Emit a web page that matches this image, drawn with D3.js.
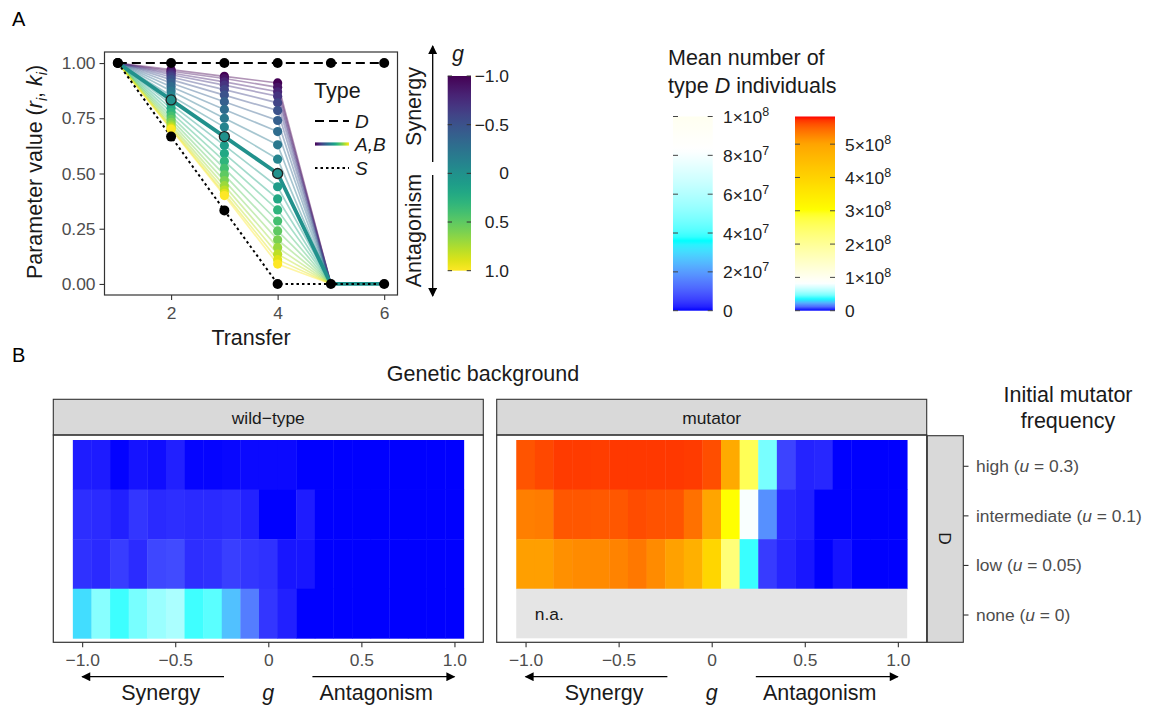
<!DOCTYPE html>
<html>
<head>
<meta charset="utf-8">
<script src="https://cdn.jsdelivr.net/npm/d3@7"></script>
<style>
  body { margin: 0; background: #fff; }
  text { font-family: "Liberation Sans", Arial, Helvetica, sans-serif; }
</style>
</head>
<body>
<svg id="fig" width="1156" height="711"></svg>
<script>
// ---- data: panel A ----
const transfers = [1, 2, 3, 4, 5, 6];
const gLevels = [-1.0, -0.9, -0.8, -0.7, -0.6, -0.5, -0.4, -0.3, -0.2, -0.1, 0.0,
                  0.1, 0.2, 0.3, 0.4, 0.5, 0.6, 0.7, 0.8, 0.9, 1.0];
const typeD = [1, 1, 1, 1, 1, 1];
const typeS = [1, 0.667, 0.333, 0, 0, 0];
const abT1 = 1;
const abT2 = [0.970, 0.963, 0.955, 0.947, 0.937, 0.925, 0.910, 0.893, 0.873, 0.852, 0.833,
              0.813, 0.795, 0.777, 0.760, 0.745, 0.732, 0.720, 0.711, 0.704, 0.700];
const abT3 = [0.940, 0.930, 0.915, 0.900, 0.880, 0.855, 0.825, 0.790, 0.750, 0.710, 0.667,
              0.627, 0.590, 0.556, 0.523, 0.494, 0.468, 0.445, 0.425, 0.410, 0.400];
const abT4 = [0.910, 0.890, 0.870, 0.850, 0.820, 0.785, 0.740, 0.690, 0.630, 0.565, 0.500,
              0.440, 0.385, 0.335, 0.285, 0.240, 0.200, 0.165, 0.135, 0.110, 0.090];
const abT5 = 0;
const abT6 = 0;
const yTicksA = [0, 0.25, 0.5, 0.75, 1];
const xTicksA = [2, 4, 6];
const gLegendTicks = [-1, -0.5, 0, 0.5, 1];
const gLegendLabels = ["\u22121.0", "\u22120.5", "0", "0.5", "1.0"];

// ---- data: panel B (mean number of type D individuals) ----
const rowLevels = ["high", "intermediate", "low", "none"];
const rowU = ["0.3", "0.1", "0.05", "0"];
const backgrounds = ["wild\u2212type", "mutator"];
const wildHigh = [1.6e6, 1.5e6, 0.1e6, 0.9e6, 0.6e6, 1.9e6, 0.2e6, 0.2e6, 0.3e6, 0.4e6, 0.4e6,
                  0.4e6, 0, 0, 0, 0, 0, 0, 0, 0, 0];
const wildIntermediate = [3.4e6, 3.1e6, 1.9e6, 4.3e6, 2.9e6, 3.4e6, 2.9e6, 2.9e6, 3.4e6, 2.1e6, 0,
                          0, 1.6e6, 0, 0, 0, 0, 0, 0, 0, 0];
const wildLow = [3.7e6, 2.9e6, 5.2e6, 3.1e6, 6.6e6, 7.2e6, 3.4e6, 3.7e6, 5.5e6, 4.3e6, 3.7e6,
                 1.1e6, 1.1e6, 0, 0, 0, 0, 0, 0, 0, 0];
const wildNone = [30.6e6, 50e6, 38.8e6, 46.8e6, 53.9e6, 58e6, 39e6, 42e6, 26e6, 15e6, 4.3e6,
                  1.9e6, 0, 0, 0, 0, 0, 0, 0, 0, 0];
const mutHigh = [5.58e8, 5.64e8, 5.70e8, 5.70e8, 5.69e8, 5.71e8, 5.71e8, 5.71e8, 5.71e8, 5.70e8, 5.61e8,
                 4.89e8, 2.61e8, 0.468e8, 0.061e8, 0.022e8, 0.026e8, 0, 0, 0, 0];
const mutIntermediate = [5.30e8, 5.32e8, 5.56e8, 5.56e8, 5.55e8, 5.56e8, 5.62e8, 5.59e8, 5.58e8, 5.40e8, 5.00e8,
                         3.00e8, 0.81e8, 0.18e8, 0.028e8, 0.019e8, 0, 0, 0, 0, 0];
const mutLow = [5.05e8, 5.05e8, 5.17e8, 5.21e8, 5.22e8, 5.27e8, 5.35e8, 5.21e8, 5.03e8, 4.77e8, 3.92e8,
                2.31e8, 0.385e8, 0.05e8, 0.024e8, 0.011e8, 0, 0.009e8, 0, 0, 0];
const mutNone = null; // not applicable

const fillStops = [0, 3.6e7, 8.3e7, 3.0e8, 5.0e8, 5.83e8];
const fillColors = ["#0000FF", "#00FFFF", "#FFFFFF", "#FFFF00", "#FFA500", "#FF0000"];
const lowBarMax = 1e8;
const lowBarTicks = [0, 2e7, 4e7, 6e7, 8e7, 1e8];
const highBarMax = 5.83e8;
const highBarTicks = [0, 1e8, 2e8, 3e8, 4e8, 5e8];
const xTicksB = [-1, -0.5, 0, 0.5, 1];

// ---- helpers ----
const svg = d3.select("#fig");
const ink = "#1a1a1a", grey = "#4d4d4d", frame = "#333333";
const fsTitle = 21.5, fsText = 17.4;
const defs = svg.append("defs");
defs.append("marker").attr("id", "arrow").attr("viewBox", "0 0 10 10")
  .attr("refX", 9).attr("refY", 5).attr("markerWidth", 10).attr("markerHeight", 9)
  .attr("markerUnits", "userSpaceOnUse").attr("orient", "auto")
  .append("path").attr("d", "M0,0 L10,5 L0,10 Z").attr("fill", "#000");

function styleAxis(sel) {
  sel.attr("font-size", null).attr("font-family", null);
  sel.select(".domain").remove();
  sel.selectAll(".tick line").attr("stroke", frame).attr("stroke-width", 1.1);
  sel.selectAll(".tick text").attr("fill", grey).style("font-size", fsText + "px");
}
function sciLabel(sel, v) {
  if (v === 0) { sel.text("0"); return; }
  const e = Math.floor(Math.log10(v) + 1e-9);
  const m = Math.round(v / Math.pow(10, e));
  sel.append("tspan").text(m + "\u00d710");
  sel.append("tspan").attr("dy", -7).style("font-size", "12.5px").text(e);
}
const viridisGrad = (id, x1, y1, x2, y2) => {
  const gr = defs.append("linearGradient").attr("id", id)
    .attr("x1", x1).attr("y1", y1).attr("x2", x2).attr("y2", y2);
  d3.range(0, 1.0001, 0.05).forEach(t => gr.append("stop")
    .attr("offset", t).attr("stop-color", d3.interpolateViridis(t)));
};
const gColor = g => d3.interpolateViridis((g + 1) / 2);
const fill = d3.scaleLinear().domain(fillStops).range(fillColors).interpolate(d3.interpolateLab).clamp(true);

// ---- panel letters ----
svg.append("text").attr("x", 12).attr("y", 25.5).style("font-size", "20px").attr("fill", "#000").text("A");
svg.append("text").attr("x", 12).attr("y", 362).style("font-size", "20px").attr("fill", "#000").text("B");

// ---- panel A ----
const xA = d3.scaleLinear().domain([0.75, 6.25]).range([104.5, 397.5]);
const yA = d3.scaleLinear().domain([-0.05, 1.05]).range([295, 52]);
const gA = svg.append("g");
const lineA = d3.line().x((d, i) => xA(transfers[i])).y(d => yA(d));

const abSeries = gLevels.map((g, i) => ({ g, vals: [abT1, abT2[i], abT3[i], abT4[i], abT5, abT6] }));

gA.selectAll(".ab").data(abSeries.filter(s => s.g !== 0)).join("path")
  .attr("d", s => lineA(s.vals)).attr("fill", "none")
  .attr("stroke", s => gColor(s.g)).attr("stroke-width", 1.7).attr("stroke-opacity", 0.42);
const mid = abSeries.find(s => s.g === 0);
gA.append("path").attr("d", lineA(mid.vals)).attr("fill", "none")
  .attr("stroke", gColor(0)).attr("stroke-width", 3.8);
gA.append("path").attr("d", lineA(typeD)).attr("fill", "none")
  .attr("stroke", "#000").attr("stroke-width", 2).attr("stroke-dasharray", "9,5");
gA.append("path").attr("d", lineA(typeS)).attr("fill", "none")
  .attr("stroke", "#000").attr("stroke-width", 2).attr("stroke-dasharray", "2.5,3");

abSeries.filter(s => s.g !== 0).forEach(s => {
  gA.selectAll(null).data(s.vals.slice(1, 4)).join("circle")
    .attr("cx", (d, i) => xA(transfers[i + 1])).attr("cy", d => yA(d))
    .attr("r", 4.6).attr("fill", gColor(s.g));
});
gA.selectAll(".mid").data(mid.vals.slice(1, 4)).join("circle")
  .attr("cx", (d, i) => xA(transfers[i + 1])).attr("cy", d => yA(d))
  .attr("r", 5).attr("fill", gColor(0)).attr("stroke", "#222").attr("stroke-width", 1.3);
gA.selectAll(".ptD").data(typeD).join("circle")
  .attr("cx", (d, i) => xA(transfers[i])).attr("cy", d => yA(d)).attr("r", 5).attr("fill", "#000");
gA.selectAll(".ptS").data(typeS).join("circle")
  .attr("cx", (d, i) => xA(transfers[i])).attr("cy", d => yA(d)).attr("r", 5).attr("fill", "#000");

gA.append("rect").attr("x", 104.5).attr("y", 52).attr("width", 293).attr("height", 243)
  .attr("fill", "none").attr("stroke", frame).attr("stroke-width", 1.2);
gA.append("g").attr("transform", "translate(104.5,0)")
  .call(d3.axisLeft(yA).tickValues(yTicksA).tickSize(5).tickPadding(4).tickFormat(d3.format(".2f")))
  .call(styleAxis);
gA.append("g").attr("transform", "translate(0,295)")
  .call(d3.axisBottom(xA).tickValues(xTicksA).tickSize(5).tickPadding(6.5).tickFormat(d3.format("d")))
  .call(styleAxis);

gA.append("text").attr("x", 251).attr("y", 345).attr("text-anchor", "middle")
  .style("font-size", fsTitle + "px").attr("fill", ink).text("Transfer");
const yTitle = gA.append("text").attr("transform", "translate(42,172) rotate(-90)")
  .attr("text-anchor", "middle").style("font-size", fsTitle + "px").attr("fill", ink);
yTitle.append("tspan").text("Parameter value (");
yTitle.append("tspan").style("font-style", "italic").text("r");
yTitle.append("tspan").attr("dy", 4.5).style("font-size", "14px").style("font-style", "italic").text("i");
yTitle.append("tspan").attr("dy", -4.5).text(", ");
yTitle.append("tspan").style("font-style", "italic").text("k");
yTitle.append("tspan").attr("dy", 4.5).style("font-size", "14px").style("font-style", "italic").text("i");
yTitle.append("tspan").attr("dy", -4.5).text(")");

// Type legend
const lg = gA.append("g");
lg.append("text").attr("x", 314).attr("y", 98).style("font-size", fsTitle + "px").attr("fill", ink).text("Type");
viridisGrad("vgH", 0, 0, 1, 0);
const keys = [
  { y: 121, label: "D", dash: "9,5", stroke: "#000", w: 2 },
  { y: 144, label: "A,B", dash: null, stroke: "url(#vgH)", w: 3 },
  { y: 168, label: "S", dash: "2.5,3", stroke: "#000", w: 2 }
];
keys.forEach(k => {
  if (k.dash === null) {
    lg.append("rect").attr("x", 315).attr("y", k.y - 1.6).attr("width", 34).attr("height", 3.2).attr("fill", k.stroke);
  } else {
    lg.append("line").attr("x1", 315).attr("x2", 349).attr("y1", k.y).attr("y2", k.y)
      .attr("stroke", k.stroke).attr("stroke-width", k.w).attr("stroke-dasharray", k.dash);
  }
  lg.append("text").attr("x", 355).attr("y", k.y + 6.5).style("font-size", "19px")
    .style("font-style", "italic").attr("fill", ink).text(k.label);
});

// g colourbar and synergy/antagonism arrows
viridisGrad("vgV", 0, 0, 0, 1);
const yG = d3.scaleLinear().domain([-1, 1]).range([76, 270.7]);
svg.append("rect").attr("x", 447.7).attr("y", yG(-1)).attr("width", 23.3).attr("height", yG(1) - yG(-1))
  .attr("fill", "url(#vgV)");
gLegendTicks.forEach((t, i) => {
  svg.append("line").attr("x1", 447.7).attr("x2", 452).attr("y1", yG(t)).attr("y2", yG(t)).attr("stroke", "#333");
  svg.append("line").attr("x1", 466.7).attr("x2", 471).attr("y1", yG(t)).attr("y2", yG(t)).attr("stroke", "#333");
  svg.append("text").attr("x", 509).attr("y", yG(t) + 6).attr("text-anchor", "end")
    .style("font-size", fsText + "px").attr("fill", "#222").text(gLegendLabels[i]);
});
svg.append("text").attr("x", 458).attr("y", 61).attr("text-anchor", "middle")
  .style("font-size", fsTitle + "px").style("font-style", "italic").attr("fill", ink).text("g");
svg.append("line").attr("x1", 432.7).attr("x2", 432.7).attr("y1", 162).attr("y2", 46)
  .attr("stroke", "#000").attr("stroke-width", 1.3).attr("marker-end", "url(#arrow)");
svg.append("line").attr("x1", 432.7).attr("x2", 432.7).attr("y1", 175).attr("y2", 296)
  .attr("stroke", "#000").attr("stroke-width", 1.3).attr("marker-end", "url(#arrow)");
svg.append("text").attr("transform", "translate(421,106.5) rotate(-90)").attr("text-anchor", "middle")
  .style("font-size", fsTitle + "px").attr("fill", ink).text("Synergy");
svg.append("text").attr("transform", "translate(421,230.5) rotate(-90)").attr("text-anchor", "middle")
  .style("font-size", fsTitle + "px").attr("fill", ink).text("Antagonism");

// ---- fill colourbars ----
const cbTitle = svg.append("g");
cbTitle.append("text").attr("x", 668).attr("y", 65).style("font-size", fsTitle + "px").attr("fill", ink).text("Mean number of");
const t2 = cbTitle.append("text").attr("x", 668).attr("y", 92.5).style("font-size", fsTitle + "px").attr("fill", ink);
t2.append("tspan").text("type ");
t2.append("tspan").style("font-style", "italic").text("D");
t2.append("tspan").text(" individuals");

function colourBar(id, x, w, maxV, ticks, labelX) {
  const y = d3.scaleLinear().domain([0, maxV]).range([310.7, 116.5]);
  const gr = defs.append("linearGradient").attr("id", id).attr("x1", 0).attr("y1", 1).attr("x2", 0).attr("y2", 0);
  d3.range(0, 1.0001, 0.02).forEach(t => gr.append("stop").attr("offset", t).attr("stop-color", fill(t * maxV)));
  svg.append("rect").attr("x", x).attr("y", y(maxV)).attr("width", w).attr("height", y(0) - y(maxV))
    .attr("fill", "url(#" + id + ")");
  ticks.forEach(t => {
    svg.append("line").attr("x1", x).attr("x2", x + 5).attr("y1", y(t)).attr("y2", y(t)).attr("stroke", "#444");
    svg.append("line").attr("x1", x + w - 5).attr("x2", x + w).attr("y1", y(t)).attr("y2", y(t)).attr("stroke", "#444");
    const tx = svg.append("text").attr("x", labelX).attr("y", y(t) + 6.5).style("font-size", fsText + "px").attr("fill", "#222");
    sciLabel(tx, t);
  });
}
colourBar("cbLow", 673, 39.7, lowBarMax, lowBarTicks, 723);
colourBar("cbHigh", 795, 40, highBarMax, highBarTicks, 845);

// ---- panel B ----
svg.append("text").attr("x", 483).attr("y", 381).attr("text-anchor", "middle")
  .style("font-size", fsTitle + "px").attr("fill", ink).text("Genetic background");

const yB = d3.scaleBand().domain(rowLevels).range([440, 638.3]);
const panels = [
  { x0: 53.3, label: backgrounds[0], rows: [wildHigh, wildIntermediate, wildLow, wildNone] },
  { x0: 496.7, label: backgrounds[1], rows: [mutHigh, mutIntermediate, mutLow, mutNone] }
];
panels.forEach(p => {
  const xB = d3.scaleLinear().domain([-1.155, 1.155]).range([p.x0, p.x0 + 430]);
  const g = svg.append("g");
  // strip
  g.append("rect").attr("x", p.x0).attr("y", 399.3).attr("width", 430).attr("height", 35.7)
    .attr("fill", "#D9D9D9").attr("stroke", frame).attr("stroke-width", 1.1);
  g.append("text").attr("x", p.x0 + 215).attr("y", 424).attr("text-anchor", "middle")
    .style("font-size", fsText + "px").attr("fill", ink).text(p.label);
  // tiles
  p.rows.forEach((vals, r) => {
    const lvl = rowLevels[r];
    if (vals === null) {
      g.append("rect").attr("x", xB(-1.05)).attr("y", yB(lvl)).attr("width", xB(1.05) - xB(-1.05))
        .attr("height", yB.bandwidth()).attr("fill", "#E5E5E5");
      g.append("text").attr("x", xB(-0.95)).attr("y", 619.5)
        .style("font-size", fsText + "px").attr("fill", ink).text("n.a.");
      return;
    }
    g.selectAll(null).data(vals).join("rect")
      .attr("x", (d, i) => xB(gLevels[i] - 0.05)).attr("y", yB(lvl))
      .attr("width", (d, i) => xB(gLevels[i] + 0.05) - xB(gLevels[i] - 0.05) + 0.4)
      .attr("height", yB.bandwidth() + 0.4).attr("fill", d => fill(d));
  });
  g.append("rect").attr("x", p.x0).attr("y", 435).attr("width", 430).attr("height", 207.3)
    .attr("fill", "none").attr("stroke", frame).attr("stroke-width", 1.2);
  g.append("g").attr("transform", "translate(0,642.3)")
    .call(d3.axisBottom(xB).tickValues(xTicksB).tickSize(5).tickPadding(6.5)
      .tickFormat(d => d === 0 ? "0" : d3.format(".1f")(d).replace("-", "\u2212")))
    .call(styleAxis);
  // arrows and labels
  g.append("line").attr("x1", xB(-0.238)).attr("x2", xB(-1.0)).attr("y1", 676.7).attr("y2", 676.7)
    .attr("stroke", "#000").attr("stroke-width", 1.3).attr("marker-end", "url(#arrow)");
  g.append("line").attr("x1", xB(0.237)).attr("x2", xB(1.0)).attr("y1", 676.7).attr("y2", 676.7)
    .attr("stroke", "#000").attr("stroke-width", 1.3).attr("marker-end", "url(#arrow)");
  g.append("text").attr("x", xB(-0.578)).attr("y", 700).attr("text-anchor", "middle")
    .style("font-size", fsTitle + "px").attr("fill", ink).text("Synergy");
  g.append("text").attr("x", xB(0)).attr("y", 700).attr("text-anchor", "middle")
    .style("font-size", fsTitle + "px").style("font-style", "italic").attr("fill", ink).text("g");
  g.append("text").attr("x", xB(0.58)).attr("y", 700).attr("text-anchor", "middle")
    .style("font-size", fsTitle + "px").attr("fill", ink).text("Antagonism");
});

// right strip and row axis
svg.append("rect").attr("x", 927.3).attr("y", 435.7).attr("width", 36).attr("height", 206.6)
  .attr("fill", "#D9D9D9").attr("stroke", frame).attr("stroke-width", 1.1);
svg.append("text").attr("transform", "translate(939,538.5) rotate(90)").attr("text-anchor", "middle")
  .style("font-size", fsText + "px").attr("fill", ink).text("D");
rowLevels.forEach((lvl, r) => {
  const cy = yB(lvl) + yB.bandwidth() / 2 + 1.5;
  svg.append("line").attr("x1", 963.3).attr("x2", 968.5).attr("y1", cy).attr("y2", cy).attr("stroke", frame).attr("stroke-width", 1.1);
  const t = svg.append("text").attr("x", 976).attr("y", cy + 6).style("font-size", fsText + "px").attr("fill", grey);
  t.append("tspan").text(lvl + " (");
  t.append("tspan").style("font-style", "italic").text("u");
  t.append("tspan").text(" = " + rowU[r] + ")");
});
svg.append("text").attr("x", 1068).attr("y", 401.5).attr("text-anchor", "middle")
  .style("font-size", fsTitle + "px").attr("fill", ink).text("Initial mutator");
svg.append("text").attr("x", 1068).attr("y", 427.5).attr("text-anchor", "middle")
  .style("font-size", fsTitle + "px").attr("fill", ink).text("frequency");
</script>
</body>
</html>
